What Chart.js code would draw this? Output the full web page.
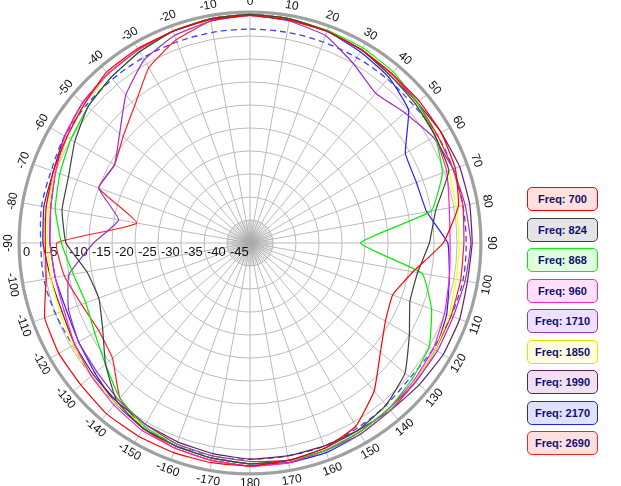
<!DOCTYPE html>
<html><head><meta charset="utf-8">
<script src="https://cdn.jsdelivr.net/npm/chart.js@4.4.0/dist/chart.umd.min.js"></script>
<style>
body{margin:0;background:#fff;width:621px;height:486px;position:relative;overflow:hidden;font-family:"Liberation Sans",Arial,sans-serif}
#wrap{position:absolute;left:0;top:0;width:500px;height:486px}
.lg{position:absolute;left:527px;width:69px;height:22px;border:1px solid;border-radius:5px;font-weight:bold;font-size:11px;color:#10106a;line-height:22px;text-align:center}
</style></head><body>
<div id="wrap"><canvas id="c"></canvas></div>
<div id="legend"></div>
<script>
const angleLabels = ["0","10","20","30","40","50","60","70","80","90","100","110","120","130","140","150","160","170","180","-170","-160","-150","-140","-130","-120","-110","-100","-90","-80","-70","-60","-50","-40","-30","-20","-10"];
const radialTicks = [0,-5,-10,-15,-20,-25,-30,-35,-40,-45];
const seriesNames = ["Freq: 700","Freq: 824","Freq: 868","Freq: 960","Freq: 1710","Freq: 1850","Freq: 1990","Freq: 2170","Freq: 2690"];
const f700  = [-0.5,-0.8,-1,-1.5,-2,-2,-2,-2.5,-4,-8,-14,-17,-16,-13,-8,-4,-2.5,-2,-1.5,-1.5,-1.5,-1.5,-1.5,-2,-2,-2.5,-5,-5.5,-5,-4.5,-4,-3,-1.5,-1.2,-1,-0.7];
const f824  = [-0.3,-0.5,-1,-1.5,-2.5,-3,-3.5,-4,-9,-11,-13,-13,-10,-6,-4,-3,-2.5,-2,-2,-2.5,-3,-3.5,-5,-9,-13,-15,-14,-10,-8.5,-8,-6,-4,-3,-2,-1,-0.5];
const f868  = [-0.3,-0.5,-0.8,-1,-1.5,-2.5,-3.5,-5.5,-10,-26,-12,-8,-5,-4,-3,-2.5,-2,-2,-2,-2.5,-3,-4,-6,-9,-11,-12,-11,-9,-7,-6,-5,-4,-3,-2,-1,-0.5];
const f960  = [-0.3,-0.5,-1,-1.5,-2,-2.5,-3.5,-4.5,-6,-6.5,-6,-5,-4,-3.5,-3,-2.5,-2,-1.5,-1.5,-2,-2.5,-3,-4,-5,-6,-7,-7,-6.5,-6,-5,-3.5,-2.5,-2,-1.5,-1,-0.5];
const f1710 = [-0.5,-1,-2,-5,-7.5,-6,-4,-3,-2.5,-2,-2.5,-3,-3,-3,-2.5,-2,-2,-2,-2.5,-3,-3.5,-4.5,-5.5,-6.5,-7,-8,-10,-16,-21,-15,-16,-13,-8,-4,-2,-1];
const f1850 = [-0.3,-0.5,-1,-1.5,-2.5,-3,-3.5,-4,-4.5,-4.5,-4.5,-4,-3.5,-3,-2.5,-2,-2,-2,-2.5,-3,-3.5,-4,-4.5,-5,-5.5,-6,-6,-6,-5.5,-5,-4,-3,-2,-1.5,-1,-0.5];
const f1990 = [-0.3,-0.5,-1,-1.5,-2.5,-2.5,-2,-1.5,-1.5,-1.7,-2,-1.5,-1.5,-2,-2.5,-3,-3,-3,-3,-3.5,-4,-4.5,-5,-5.5,-6,-6.5,-6,-5,-4.5,-4.5,-3.5,-2.5,-2,-1.5,-1,-0.5];
const f2170 = [-0.3,-0.5,-1,-2,-3,-5,-11,-11.5,-11,-7,-6,-4.5,-3.5,-3,-2.5,-2,-1.5,-1.5,-2,-2.5,-3,-3.5,-4.5,-6,-7,-7.5,-7,-6.5,-6,-5,-4,-3,-2,-1.5,-1,-0.5];
const f2690 = [-0.5,-0.8,-1,-1.5,-2,-2.5,-3,-3,-3,-3.5,-3.5,-3.5,-3.5,-3,-3,-2.5,-2,-1.5,-1.5,-2,-2.5,-3.5,-6,-11,-12,-11,-9,-8,-25,-15,-16,-14,-11,-6,-3,-1];
const refDashed = [-3.5,-3.5,-3.5,-3.5,-3.5,-3.5,-3,-3,-3,-3,-3,-3.5,-4,-4.5,-4,-3.5,-3,-3,-3,-3,-3.5,-4,-4.5,-5,-5.5,-5,-4.5,-4.5,-4,-4,-3.5,-3.5,-3.5,-3.5,-3.5,-3.5];

const values = [f700,f824,f868,f960,f1710,f1850,f1990,f2170,f2690];
const lineColors = ["#ff0000","#404040","#00ee00","#ff20c0","#a030c0","#ffff00","#602060","#2020ff","#ff2020"];
const fills = ["#ffe0e0","#e4e4e4","#e0ffe0","#ffe0f8","#f0e0ff","#ffffe0","#f0e0f0","#e0e0ff","#ffe0e0"];

const datasets = values.map((v,i)=>({label:seriesNames[i],data:v,borderColor:lineColors[i],borderWidth:1.2,fill:false,pointRadius:0,tension:0.12}));
datasets.push({label:"ref",data:refDashed,borderColor:"#4040ff",borderWidth:1.3,borderDash:[6,4],fill:false,pointRadius:0,tension:0.3});

const lg = document.getElementById('legend');
seriesNames.forEach((n,i)=>{const d=document.createElement('div');d.className='lg';d.style.top=(187+i*30.5)+'px';d.style.borderColor=lineColors[i]==="#ffff00"?"#e0e000":lineColors[i];d.style.background=fills[i];d.textContent=n;lg.appendChild(d);});

const deco = {
  id:'deco',
  beforeDatasetsDraw(chart){
    const s=chart.scales.r,ctx=chart.ctx,cx=s.xCenter,cy=s.yCenter;
    const r0=s.getDistanceFromCenterForValue(-45);
    ctx.save();ctx.strokeStyle='#aaa';ctx.lineWidth=0.7;
    for(let a=0;a<360;a+=5){const t=a*Math.PI/180;ctx.beginPath();ctx.moveTo(cx,cy);ctx.lineTo(cx+r0*Math.sin(t),cy-r0*Math.cos(t));ctx.stroke();}
    const R=s.getDistanceFromCenterForValue(0);
    ctx.strokeStyle='#a0a0a0';ctx.lineWidth=3;ctx.beginPath();ctx.arc(cx,cy,R+1,0,Math.PI*2);ctx.stroke();
    ctx.fillStyle='#111';ctx.font='13px "Liberation Sans", Arial, sans-serif';ctx.textAlign='left';ctx.textBaseline='top';
    radialTicks.forEach(v=>{const d=s.getDistanceFromCenterForValue(v);ctx.fillText(String(v),cx-d+3,cy+3);});
    ctx.restore();
  },
  afterDraw(chart){
    const s=chart.scales.r,ctx=chart.ctx,cx=s.xCenter,cy=s.yCenter;
    const R=s.getDistanceFromCenterForValue(0)+11;
    ctx.save();ctx.fillStyle='#111';ctx.font='12px "Liberation Sans", Arial, sans-serif';ctx.textAlign='center';ctx.textBaseline='middle';
    angleLabels.forEach((l,i)=>{const a=i*10;const t=a*Math.PI/180;ctx.save();ctx.translate(cx+R*Math.sin(t),cy-R*Math.cos(t));
      let rot=a; if(a>90&&a<270) rot=a-180; ctx.rotate(rot*Math.PI/180);ctx.fillText(l,0,0);ctx.restore();});
    ctx.restore();
  }
};

new Chart(document.getElementById('c'),{
  type:'radar',
  data:{labels:angleLabels,datasets},
  options:{responsive:true,maintainAspectRatio:false,animation:false,
    layout:{padding:13},
    plugins:{legend:{display:false},tooltip:{enabled:false}},
    scales:{r:{min:-50,max:0,startAngle:0,
      ticks:{display:false,stepSize:5},
      pointLabels:{display:false},
      grid:{circular:true,color:'#bbb',lineWidth:1},
      angleLines:{color:'#bbb',lineWidth:1}}}},
  plugins:[deco]
});
</script></body></html>
